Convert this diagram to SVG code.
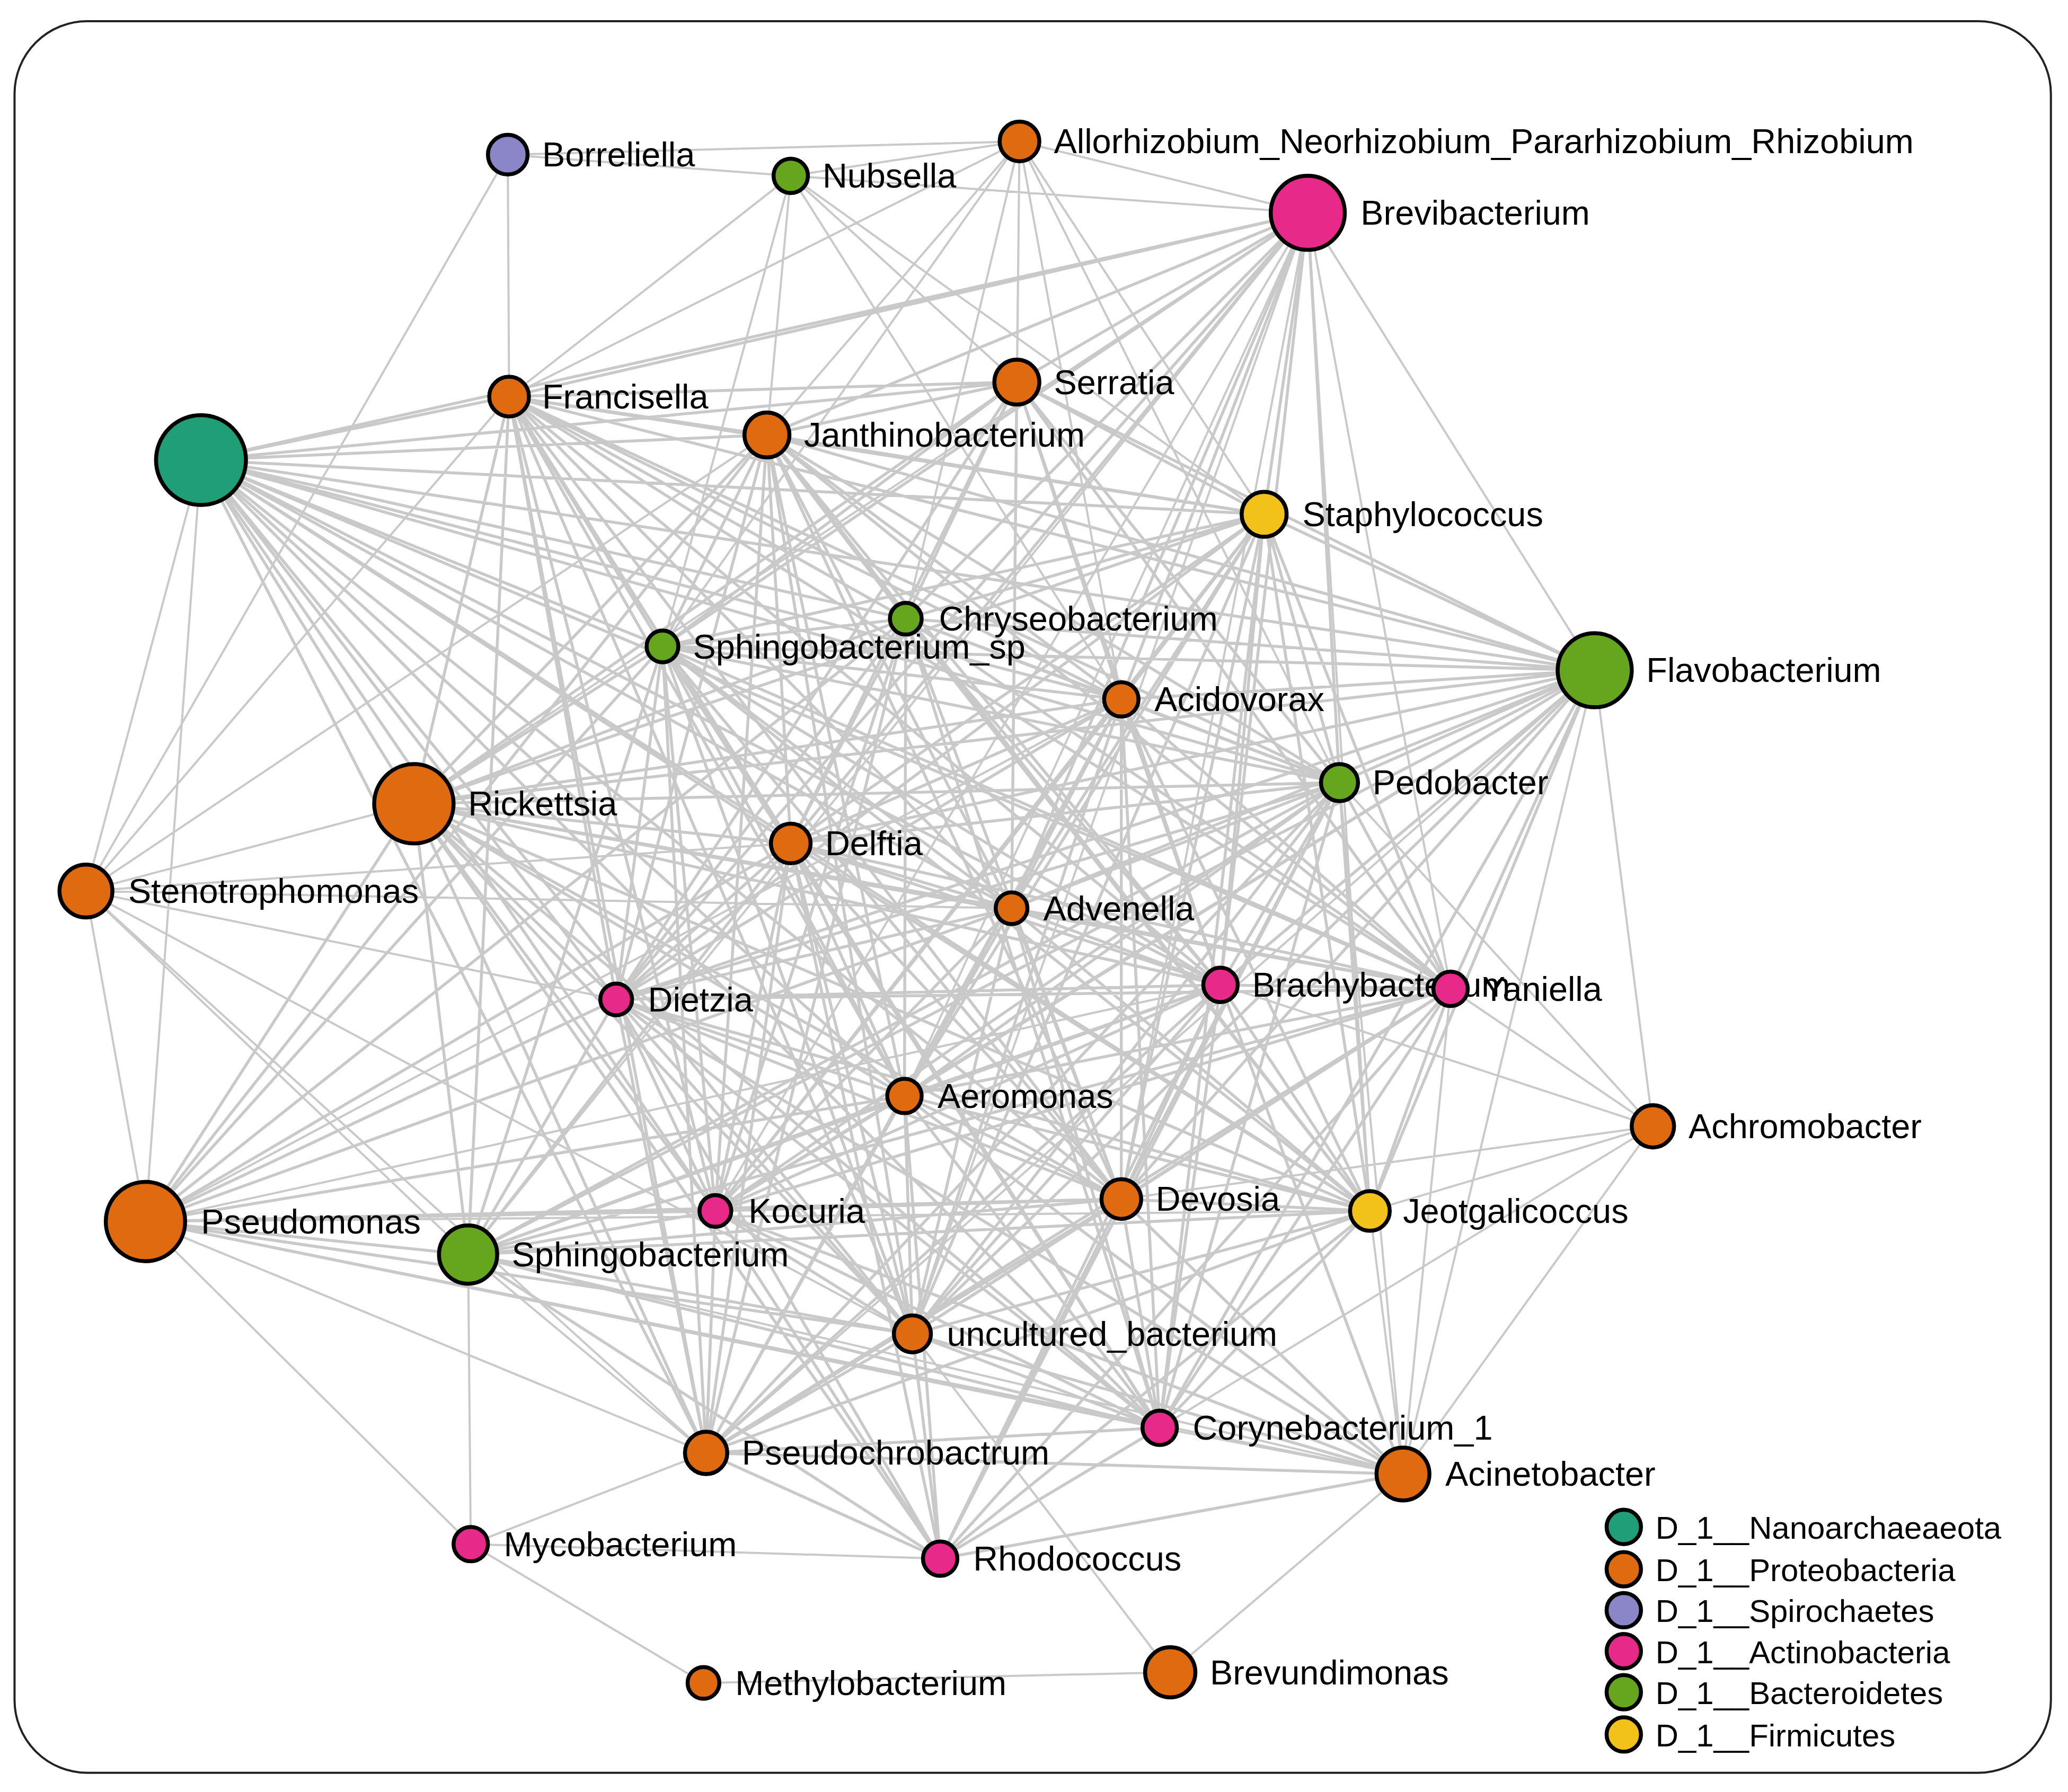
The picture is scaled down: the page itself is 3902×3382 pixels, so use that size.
<svg xmlns="http://www.w3.org/2000/svg" width="3902" height="3382" viewBox="0 0 3902 3382">
<style>
.e{fill:none;stroke:#c9c9c9;stroke-linecap:round}
.n{stroke:#000;stroke-width:3}
.t{font-family:"Liberation Sans",Arial,sans-serif;font-size:26px;fill:#000}
.l{font-family:"Liberation Sans",Arial,sans-serif;font-size:24px;fill:#000}
.o{fill:#e06a10}.g{fill:#66a61e}.p{fill:#e7298a}.y{fill:#f2c21a}.v{fill:#8b86c8}.c{fill:#1f9e77}
</style>
<rect width="3902" height="3382" fill="#fff"/>
<g transform="scale(2.495)">
<rect x="11" y="16" width="1540" height="1325" rx="55" fill="none" stroke="#222" stroke-width="1.6"/>
<g id="connectors">
<path class="e" stroke-width="1.6" d="M384 117L771 107M384 117L598 133M384 117L385 300M384 117L65 674M598 133L771 107M598 133L385 300M598 133L989 161M598 133L580 329M598 133L769 289M598 133L956 389M598 133L848 529M598 133L501 489M771 107L989 161M771 107L385 300M771 107L769 289M771 107L580 329M771 107L685 468M771 107L956 389M771 107L848 529M771 107L501 489M771 107L1013 592M771 107L765 687M989 161L1206 507M989 161L1097 748M989 161L1036 916M989 161L848 907M989 161L313 608M989 161L541 916M989 161L354 949M989 161L690 1009M989 161L684 829M152 348L65 674M152 348L110 924M65 674L110 924M65 674L313 608M65 674L466 756M65 674L354 949M65 674L534 1099M65 674L385 300M65 674L580 329M65 674L598 638M65 674L765 687M65 674L690 1009M110 924L356 1168M110 924L534 1099M354 949L356 1168M354 949L534 1099M356 1168L534 1099M356 1168L711 1179M356 1168L532 1273M532 1273L885 1265M690 1009L885 1265M885 1265L1061 1115M1250 852L1206 507M1250 852L1097 748M1250 852L1036 916M1250 852L923 745M1250 852L1013 592M1250 852L877 1080M1250 852L848 907M1250 852L1061 1115M1061 1115L1206 507M1061 1115L1097 748M1061 1115L1036 916M1061 1115L877 1080M1061 1115L1013 592M534 1099L1206 507M110 924L1061 1115M354 949L1061 1115M110 924L1036 916M110 924L923 745M110 924L848 529"/>
<path class="e" stroke-width="2.2" d="M989 161L385 300M989 161L152 348M989 161L956 389M989 161L580 329M989 161L769 289M989 161L685 468M989 161L848 529M989 161L1013 592M989 161L923 745M989 161L598 638M989 161L466 756M989 161L765 687M989 161L501 489M385 300L152 348M385 300L769 289M385 300L580 329M385 300L313 608M385 300L466 756M385 300L501 489M385 300L956 389M385 300L848 529M385 300L598 638M385 300L684 829M385 300L541 916M385 300L354 949M385 300L848 907M385 300L1206 507M385 300L1013 592M385 300L923 745M385 300L690 1009M385 300L685 468M385 300L534 1099M385 300L765 687M385 300L1097 748M385 300L877 1080M152 348L313 608M152 348L580 329M152 348L769 289M152 348L956 389M152 348L1206 507M152 348L848 529M152 348L1013 592M152 348L765 687M152 348L923 745M152 348L1097 748M152 348L598 638M152 348L466 756M152 348L684 829M152 348L848 907M152 348L1036 916M152 348L541 916M152 348L690 1009M152 348L877 1080M152 348L534 1099M152 348L501 489M152 348L685 468M110 924L313 608M110 924L354 949M110 924L541 916M110 924L466 756M110 924L598 638M110 924L580 329M110 924L501 489M110 924L684 829M110 924L848 907M110 924L690 1009M110 924L685 468M110 924L765 687M110 924L877 1080M354 949L541 916M354 949L711 1179M354 949L690 1009M354 949L877 1080M354 949L466 756M354 949L313 608M354 949L848 907M354 949L1036 916M354 949L684 829M354 949L598 638M354 949L501 489M354 949L923 745M354 949L1097 748M354 949L1013 592M354 949L1206 507M711 1179L534 1099M711 1179L690 1009M711 1179L877 1080M711 1179L1061 1115M711 1179L541 916M711 1179L466 756M711 1179L848 907M711 1179L1036 916M711 1179L1097 748M711 1179L923 745M711 1179L684 829M711 1179L598 638M711 1179L313 608M711 1179L1013 592M534 1099L541 916M534 1099L690 1009M534 1099L877 1080M534 1099L1061 1115M534 1099L466 756M534 1099L684 829M534 1099L848 907M534 1099L1036 916M534 1099L1097 748M534 1099L923 745M534 1099L598 638M534 1099L313 608M534 1099L501 489M534 1099L685 468M534 1099L848 529M534 1099L1013 592M1061 1115L690 1009M1061 1115L848 907M1061 1115L923 745M1061 1115L541 916M1061 1115L684 829M1061 1115L466 756"/>
<path class="e" stroke-width="2.2" d="M1206 507L956 389M1206 507L1013 592M1206 507L1097 748M1206 507L1036 916M1206 507L848 529M1206 507L923 745M1206 507L848 907M1206 507L685 468M1206 507L769 289M1206 507L580 329M1206 507L598 638M1206 507L765 687M1206 507L466 756M1206 507L684 829M1206 507L541 916M1206 507L690 1009M1206 507L877 1080M1206 507L313 608M1206 507L501 489M956 389L769 289M956 389L580 329M956 389L685 468M956 389L501 489M956 389L848 529M956 389L1013 592M956 389L923 745M956 389L1097 748M956 389L1036 916M956 389L848 907M956 389L765 687M956 389L598 638M956 389L466 756M956 389L684 829M956 389L541 916M956 389L690 1009M956 389L877 1080M956 389L313 608M769 289L580 329M769 289L685 468M769 289L501 489M769 289L848 529M769 289L1013 592M769 289L1097 748M769 289L765 687M769 289L923 745M769 289L466 756M769 289L313 608M769 289L598 638M580 329L685 468M580 329L501 489M580 329L848 529M580 329L1013 592M580 329L313 608M580 329L598 638M580 329L466 756M580 329L765 687M580 329L923 745M580 329L1097 748M580 329L684 829M580 329L541 916M580 329L848 907M580 329L1036 916M580 329L690 1009M685 468L501 489M685 468L848 529M685 468L1013 592M685 468L313 608M685 468L598 638M685 468L466 756M685 468L923 745M685 468L1097 748M685 468L684 829M685 468L848 907M685 468L1036 916M685 468L877 1080M685 468L541 916M501 489L848 529M501 489L1013 592M501 489L598 638M501 489L466 756M501 489L765 687M501 489L923 745M501 489L1097 748M501 489L684 829M501 489L848 907M501 489L1036 916M501 489L541 916M501 489L690 1009M501 489L877 1080M501 489L313 608"/>
<path class="e" stroke-width="2.2" d="M848 529L1013 592M848 529L598 638M848 529L765 687M848 529L923 745M848 529L1097 748M848 529L466 756M848 529L684 829M848 529L848 907M848 529L1036 916M848 529L541 916M848 529L690 1009M848 529L877 1080M848 529L313 608M1013 592L313 608M1013 592L598 638M1013 592L765 687M1013 592L923 745M1013 592L1097 748M1013 592L466 756M1013 592L684 829M1013 592L848 907M1013 592L1036 916M1013 592L541 916M1013 592L690 1009M1013 592L877 1080M313 608L598 638M313 608L765 687M313 608L923 745M313 608L1097 748M313 608L466 756M313 608L684 829M313 608L541 916M313 608L848 907M313 608L1036 916M313 608L690 1009M313 608L877 1080M598 638L765 687M598 638L923 745M598 638L1097 748M598 638L466 756M598 638L684 829M598 638L541 916M598 638L848 907M598 638L1036 916M598 638L690 1009M598 638L877 1080M765 687L923 745M765 687L1097 748M765 687L466 756M765 687L684 829M765 687L541 916M765 687L848 907M765 687L1036 916M765 687L690 1009M765 687L877 1080M923 745L1097 748M923 745L466 756M923 745L684 829M923 745L541 916M923 745L848 907M923 745L1036 916M923 745L690 1009M923 745L877 1080M1097 748L466 756M1097 748L684 829M1097 748L541 916M1097 748L848 907M1097 748L1036 916M1097 748L690 1009M1097 748L877 1080M466 756L684 829M466 756L541 916M466 756L848 907M466 756L1036 916M466 756L690 1009M466 756L877 1080M684 829L541 916M684 829L848 907M684 829L1036 916M684 829L690 1009M684 829L877 1080M541 916L848 907M541 916L690 1009M541 916L877 1080M848 907L1036 916M848 907L690 1009M848 907L877 1080M1036 916L690 1009M1036 916L877 1080M690 1009L877 1080"/>
</g>
<g id="n-borreliella"><circle class="n v" cx="384" cy="117" r="15"/><text class="t" x="410" y="126">Borreliella</text></g>
<g id="n-nubsella"><circle class="n g" cx="598" cy="133" r="13"/><text class="t" x="622" y="142">Nubsella</text></g>
<g id="n-allorhizobium"><circle class="n o" cx="771" cy="107" r="15"/><text class="t" x="797" y="116">Allorhizobium_Neorhizobium_Pararhizobium_Rhizobium</text></g>
<g id="n-brevibacterium"><circle class="n p" cx="989" cy="161" r="28"/><text class="t" x="1029" y="170">Brevibacterium</text></g>
<g id="n-francisella"><circle class="n o" cx="385" cy="300" r="15"/><text class="t" x="410" y="309">Francisella</text></g>
<g id="n-serratia"><circle class="n o" cx="769" cy="289" r="17"/><text class="t" x="797" y="298">Serratia</text></g>
<g id="n-janthinobacterium"><circle class="n o" cx="580" cy="329" r="17"/><text class="t" x="608" y="338">Janthinobacterium</text></g>
<g id="n-nanoarchaeaeota"><circle class="n c" cx="152" cy="348" r="34"/></g>
<g id="n-staphylococcus"><circle class="n y" cx="956" cy="389" r="17"/><text class="t" x="985" y="398">Staphylococcus</text></g>
<g id="n-chryseobacterium"><circle class="n g" cx="685" cy="468" r="12"/><text class="t" x="710" y="477">Chryseobacterium</text></g>
<g id="n-sphingobacterium_sp"><circle class="n g" cx="501" cy="489" r="12"/><text class="t" x="524" y="498">Sphingobacterium_sp</text></g>
<g id="n-flavobacterium"><circle class="n g" cx="1206" cy="507" r="28"/><text class="t" x="1245" y="516">Flavobacterium</text></g>
<g id="n-acidovorax"><circle class="n o" cx="848" cy="529" r="13"/><text class="t" x="873" y="538">Acidovorax</text></g>
<g id="n-pedobacter"><circle class="n g" cx="1013" cy="592" r="14"/><text class="t" x="1038" y="601">Pedobacter</text></g>
<g id="n-rickettsia"><circle class="n o" cx="313" cy="608" r="30"/><text class="t" x="354" y="617">Rickettsia</text></g>
<g id="n-delftia"><circle class="n o" cx="598" cy="638" r="15"/><text class="t" x="624" y="647">Delftia</text></g>
<g id="n-stenotrophomonas"><circle class="n o" cx="65" cy="674" r="20"/><text class="t" x="97" y="683">Stenotrophomonas</text></g>
<g id="n-advenella"><circle class="n o" cx="765" cy="687" r="12"/><text class="t" x="789" y="696">Advenella</text></g>
<g id="n-brachybacterium"><circle class="n p" cx="923" cy="745" r="13"/><text class="t" x="947" y="754">Brachybacterium</text></g>
<g id="n-yaniella"><circle class="n p" cx="1097" cy="748" r="13"/><text class="t" x="1121" y="757">Yaniella</text></g>
<g id="n-dietzia"><circle class="n p" cx="466" cy="756" r="12"/><text class="t" x="490" y="765">Dietzia</text></g>
<g id="n-aeromonas"><circle class="n o" cx="684" cy="829" r="13"/><text class="t" x="709" y="838">Aeromonas</text></g>
<g id="n-achromobacter"><circle class="n o" cx="1250" cy="852" r="16"/><text class="t" x="1277" y="861">Achromobacter</text></g>
<g id="n-pseudomonas"><circle class="n o" cx="110" cy="924" r="30"/><text class="t" x="152" y="933">Pseudomonas</text></g>
<g id="n-kocuria"><circle class="n p" cx="541" cy="916" r="12"/><text class="t" x="566" y="925">Kocuria</text></g>
<g id="n-devosia"><circle class="n o" cx="848" cy="907" r="15"/><text class="t" x="874" y="916">Devosia</text></g>
<g id="n-jeotgalicoccus"><circle class="n y" cx="1036" cy="916" r="15"/><text class="t" x="1061" y="925">Jeotgalicoccus</text></g>
<g id="n-sphingobacterium"><circle class="n g" cx="354" cy="949" r="22"/><text class="t" x="387" y="958">Sphingobacterium</text></g>
<g id="n-uncultured_bacterium"><circle class="n o" cx="690" cy="1009" r="14"/><text class="t" x="716" y="1018">uncultured_bacterium</text></g>
<g id="n-corynebacterium_1"><circle class="n p" cx="877" cy="1080" r="13"/><text class="t" x="902" y="1089">Corynebacterium_1</text></g>
<g id="n-pseudochrobactrum"><circle class="n o" cx="534" cy="1099" r="16"/><text class="t" x="561" y="1108">Pseudochrobactrum</text></g>
<g id="n-acinetobacter"><circle class="n o" cx="1061" cy="1115" r="20"/><text class="t" x="1093" y="1124">Acinetobacter</text></g>
<g id="n-mycobacterium"><circle class="n p" cx="356" cy="1168" r="13"/><text class="t" x="381" y="1177">Mycobacterium</text></g>
<g id="n-rhodococcus"><circle class="n p" cx="711" cy="1179" r="13"/><text class="t" x="736" y="1188">Rhodococcus</text></g>
<g id="n-methylobacterium"><circle class="n o" cx="532" cy="1273" r="12"/><text class="t" x="556" y="1282">Methylobacterium</text></g>
<g id="n-brevundimonas"><circle class="n o" cx="885" cy="1265" r="19"/><text class="t" x="915" y="1274">Brevundimonas</text></g>
<g id="legend">
<circle class="n c" cx="1228" cy="1155" r="13"/><text class="l" x="1252" y="1164">D_1__Nanoarchaeaeota</text>
<circle class="n o" cx="1228" cy="1187" r="13"/><text class="l" x="1252" y="1196">D_1__Proteobacteria</text>
<circle class="n v" cx="1228" cy="1218" r="13"/><text class="l" x="1252" y="1227">D_1__Spirochaetes</text>
<circle class="n p" cx="1228" cy="1249" r="13"/><text class="l" x="1252" y="1258">D_1__Actinobacteria</text>
<circle class="n g" cx="1228" cy="1280" r="13"/><text class="l" x="1252" y="1289">D_1__Bacteroidetes</text>
<circle class="n y" cx="1228" cy="1312" r="13"/><text class="l" x="1252" y="1321">D_1__Firmicutes</text>
</g>
</g>
</svg>
